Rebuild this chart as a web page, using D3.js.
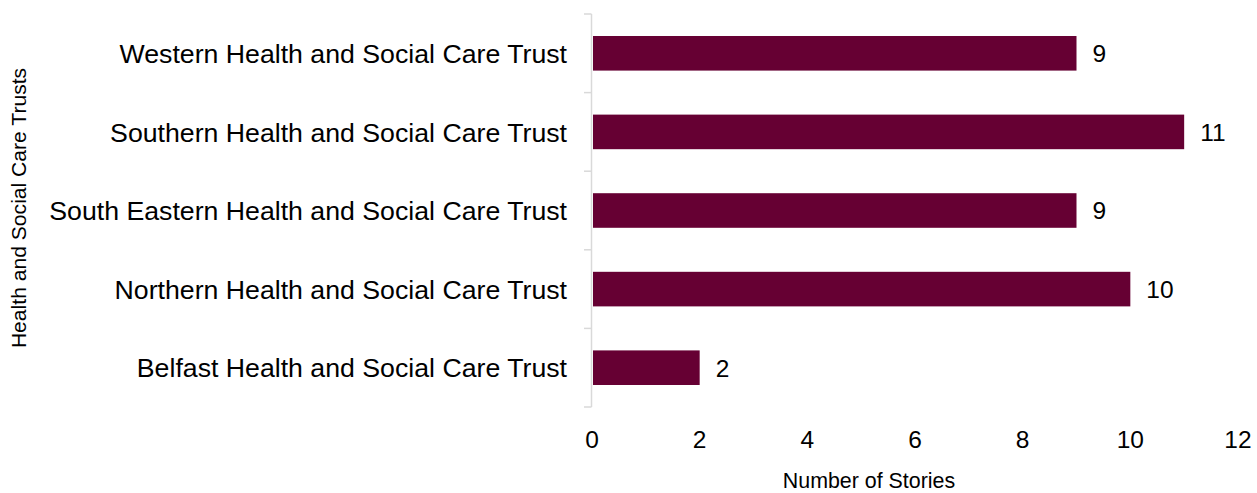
<!DOCTYPE html>
<html>
<head>
<meta charset="utf-8">
<script src="https://cdn.jsdelivr.net/npm/d3@7"></script>
<style>
  body { margin: 0; background: #fff; }
  svg text { font-family: "Liberation Sans", Arial, sans-serif; fill: #000; }
</style>
</head>
<body>
<div id="chart"></div>
<script>
// data, top to bottom as in the picture
var trusts = [
    "Western Health and Social Care Trust",
    "Southern Health and Social Care Trust",
    "South Eastern Health and Social Care Trust",
    "Northern Health and Social Care Trust",
    "Belfast Health and Social Care Trust"
];
var stories = [9, 11, 9, 10, 2];
var xTicks = [0, 2, 4, 6, 8, 10, 12];

var width = 1257, height = 493;
var margin = { top: 14, right: 19, bottom: 86, left: 592 };

var svg = d3.select("#chart").append("svg")
    .attr("width", width)
    .attr("height", height);

var x = d3.scaleLinear()
    .domain([0, 12])
    .range([margin.left, width - margin.right]);

var y = d3.scaleBand()
    .domain(trusts)
    .range([margin.top, height - margin.bottom])
    .paddingInner(0.56)
    .paddingOuter(0.28);

// axis line + category tick marks
var axisCol = "#d9d9d9";
svg.append("line")
    .attr("x1", x(0) - 0.5).attr("x2", x(0) - 0.5)
    .attr("y1", margin.top).attr("y2", height - margin.bottom)
    .attr("stroke", axisCol).attr("stroke-width", 1.5);

d3.range(trusts.length + 1).forEach(function (i) {
    var yy = margin.top + i * (height - margin.top - margin.bottom) / trusts.length;
    svg.append("line")
        .attr("x1", x(0) - 8).attr("x2", x(0) - 0.5)
        .attr("y1", yy).attr("y2", yy)
        .attr("stroke", axisCol).attr("stroke-width", 1.5);
});

// bars
svg.selectAll("rect.bar")
    .data(trusts)
    .enter().append("rect")
    .attr("class", "bar")
    .attr("x", x(0) + 1)
    .attr("y", function (d) { return y(d); })
    .attr("width", function (d, i) { return x(stories[i]) - x(0) - 1; })
    .attr("height", y.bandwidth())
    .attr("fill", "#660033");

// value labels
svg.selectAll("text.val")
    .data(trusts)
    .enter().append("text")
    .attr("class", "val")
    .attr("x", function (d, i) { return x(stories[i]) + 16; })
    .attr("y", function (d) { return y(d) + y.bandwidth() / 2; })
    .attr("dy", "0.36em")
    .style("font-size", "24.5px")
    .text(function (d, i) { return stories[i]; });

// category labels
svg.selectAll("text.cat")
    .data(trusts)
    .enter().append("text")
    .attr("class", "cat")
    .attr("x", x(0) - 25)
    .attr("y", function (d) { return y(d) + y.bandwidth() / 2; })
    .attr("dy", "0.36em")
    .attr("text-anchor", "end")
    .style("font-size", "26.7px")
    .text(function (d) { return d; });

// x tick labels
svg.selectAll("text.xt")
    .data(xTicks)
    .enter().append("text")
    .attr("class", "xt")
    .attr("x", function (d) { return x(d); })
    .attr("y", 448)
    .attr("text-anchor", "middle")
    .style("font-size", "24.5px")
    .text(function (d) { return d; });

// axis titles
svg.append("text")
    .attr("x", 869)
    .attr("y", 488)
    .attr("text-anchor", "middle")
    .style("font-size", "21.4px")
    .text("Number of Stories");

svg.append("text")
    .attr("transform", "translate(26,208) rotate(-90)")
    .attr("text-anchor", "middle")
    .style("font-size", "21.1px")
    .text("Health and Social Care Trusts");
</script>
</body>
</html>
